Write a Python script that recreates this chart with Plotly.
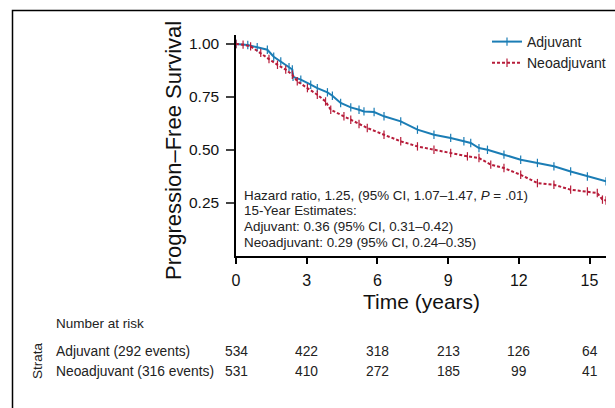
import plotly.graph_objects as go

# ---- data ----
adj_time = [0, 0.5, 0.9, 1.33, 1.6, 1.9, 2.25, 2.39, 2.42, 2.75, 3.17, 3.45, 3.88, 4.09, 4.44,
            4.87, 5.22, 5.43, 5.86, 6.28, 6.99, 7.70, 8.40, 9.11, 9.67, 9.96, 10.31, 10.67,
            11.37, 12.08, 12.79, 13.49, 14.2, 14.91, 15.7]
adj_surv = [1.0, 0.995, 0.985, 0.973, 0.94, 0.918, 0.891, 0.88, 0.845, 0.832, 0.808, 0.792, 0.772,
            0.756, 0.722, 0.701, 0.69, 0.682, 0.679, 0.659, 0.635, 0.596, 0.572, 0.557, 0.541,
            0.533, 0.509, 0.501, 0.478, 0.454, 0.439, 0.423, 0.399, 0.375, 0.352]
neo_time = [0, 0.3, 0.62, 1.05, 1.4, 1.76, 2.11, 2.39, 2.6, 3.03, 3.45, 3.8, 4.02, 4.58, 4.87,
            5.22, 5.57, 6.28, 6.99, 7.70, 8.40, 9.11, 9.82, 10.31, 10.81, 11.37, 12.08, 12.79,
            13.49, 14.2, 14.91, 15.33, 15.55, 15.7]
neo_surv = [1.0, 0.997, 0.989, 0.958, 0.929, 0.902, 0.879, 0.855, 0.824, 0.792, 0.761, 0.729,
            0.69, 0.659, 0.643, 0.623, 0.604, 0.572, 0.541, 0.517, 0.501, 0.486, 0.470, 0.462,
            0.431, 0.415, 0.383, 0.344, 0.336, 0.313, 0.305, 0.297, 0.266, 0.262]

risk_times = [0, 3, 6, 9, 12, 15]
adj_risk = [534, 422, 318, 213, 126, 64]
neo_risk = [531, 410, 272, 185, 99, 41]
x_ticks = [0, 3, 6, 9, 12, 15]
y_ticks = [0.25, 0.50, 0.75, 1.00]
y_tick_labels = ["0.25", "0.50", "0.75", "1.00"]

annot_lines = [
    "Hazard ratio, 1.25, (95% CI, 1.07–1.47, <i>P</i> = .01)",
    "15-Year Estimates:",
    "Adjuvant: 0.36 (95% CI, 0.31–0.42)",
    "Neoadjuvant: 0.29 (95% CI, 0.24–0.35)",
]

BLUE = "#1b7db5"
RED = "#b71c3a"
FONT = "Liberation Sans, Arial, sans-serif"

fig = go.Figure()
fig.add_trace(go.Scatter(
    x=adj_time, y=adj_surv, name="Adjuvant", mode="lines+markers",
    line=dict(color=BLUE, width=2),
    marker=dict(symbol="line-ns", size=6, line=dict(color=BLUE, width=1.2)),
))
fig.add_trace(go.Scatter(
    x=neo_time, y=neo_surv, name="Neoadjuvant", mode="lines+markers",
    line=dict(color=RED, width=2, dash="3px,2px"),
    marker=dict(symbol="line-ns", size=6, line=dict(color=RED, width=1.2)),
))

H = 221.0  # plot height in px
W = 370.0  # plot width in px
def py(p):
    return (256.0 - p) / H
def px(p):
    return (p - 236.0) / W

ann = []
for i, line in enumerate(annot_lines):
    ann.append(dict(x=px(242), y=py(195 + i * 15.7), xref="paper", yref="paper",
                    text=line, showarrow=False, xanchor="left", yanchor="middle",
                    font=dict(size=13.4, color="#222")))

ann.append(dict(x=0.5, y=py(301), xref="paper", yref="paper", text="Time (years)",
                showarrow=False, xanchor="center", yanchor="middle",
                font=dict(size=21, color="#111")))
ann.append(dict(x=px(173), y=py(151), xref="paper", yref="paper",
                text="Progression–Free Survival", textangle=-90,
                showarrow=False, xanchor="center", yanchor="middle",
                font=dict(size=22, color="#111")))

ann.append(dict(x=px(54), y=py(323), xref="paper", yref="paper", text="Number at risk",
                showarrow=False, xanchor="left", yanchor="middle", font=dict(size=13.5, color="#222")))
ann.append(dict(x=px(54), y=py(351), xref="paper", yref="paper", text="Adjuvant (292 events)",
                showarrow=False, xanchor="left", yanchor="middle", font=dict(size=13.8, color="#222")))
ann.append(dict(x=px(54), y=py(371), xref="paper", yref="paper", text="Neoadjuvant (316 events)",
                showarrow=False, xanchor="left", yanchor="middle", font=dict(size=13.8, color="#222")))
ann.append(dict(x=px(37), y=py(361), xref="paper", yref="paper", text="Strata", textangle=-90,
                showarrow=False, xanchor="center", yanchor="middle", font=dict(size=13.5, color="#222")))
for t, a, n in zip(risk_times, adj_risk, neo_risk):
    ann.append(dict(x=t, y=py(351), xref="x", yref="paper", text=str(a), showarrow=False,
                    xanchor="center", yanchor="middle", font=dict(size=13.8, color="#222")))
    ann.append(dict(x=t, y=py(371), xref="x", yref="paper", text=str(n), showarrow=False,
                    xanchor="center", yanchor="middle", font=dict(size=13.8, color="#222")))

fig.update_layout(
    width=615, height=408,
    margin=dict(l=236, r=9, t=35, b=152, autoexpand=False),
    paper_bgcolor="white", plot_bgcolor="white",
    font=dict(family=FONT, color="#111"),
    showlegend=True,
    legend=dict(x=px(487), y=py(26), xanchor="left", yanchor="top",
                font=dict(size=14, color="#222"), bgcolor="rgba(0,0,0,0)",
                itemwidth=30, tracegroupgap=2),
    annotations=ann,
    shapes=[dict(type="rect", xref="paper", yref="paper",
                 x0=px(12.5), y0=py(460), x1=px(640), y1=py(10.5),
                 line=dict(color="black", width=1.5))],
    xaxis=dict(range=[0, 15.7], tickvals=x_ticks, ticktext=[str(v) for v in x_ticks],
               showgrid=False, zeroline=False, showline=True, linecolor="black", linewidth=1.5,
               ticks="outside", ticklen=6, tickwidth=1.5, tickcolor="black",
               tickfont=dict(size=16, color="#111"), ticklabelstandoff=3),
    yaxis=dict(range=[0, 1.0425], tickvals=y_ticks, ticktext=y_tick_labels,
               showgrid=False, zeroline=False, showline=True, linecolor="black", linewidth=1.5,
               ticks="outside", ticklen=8, tickwidth=1.5, tickcolor="#444",
               tickfont=dict(size=15.5, color="#111"), ticklabelstandoff=4),
)

fig.write_html("out.html")
